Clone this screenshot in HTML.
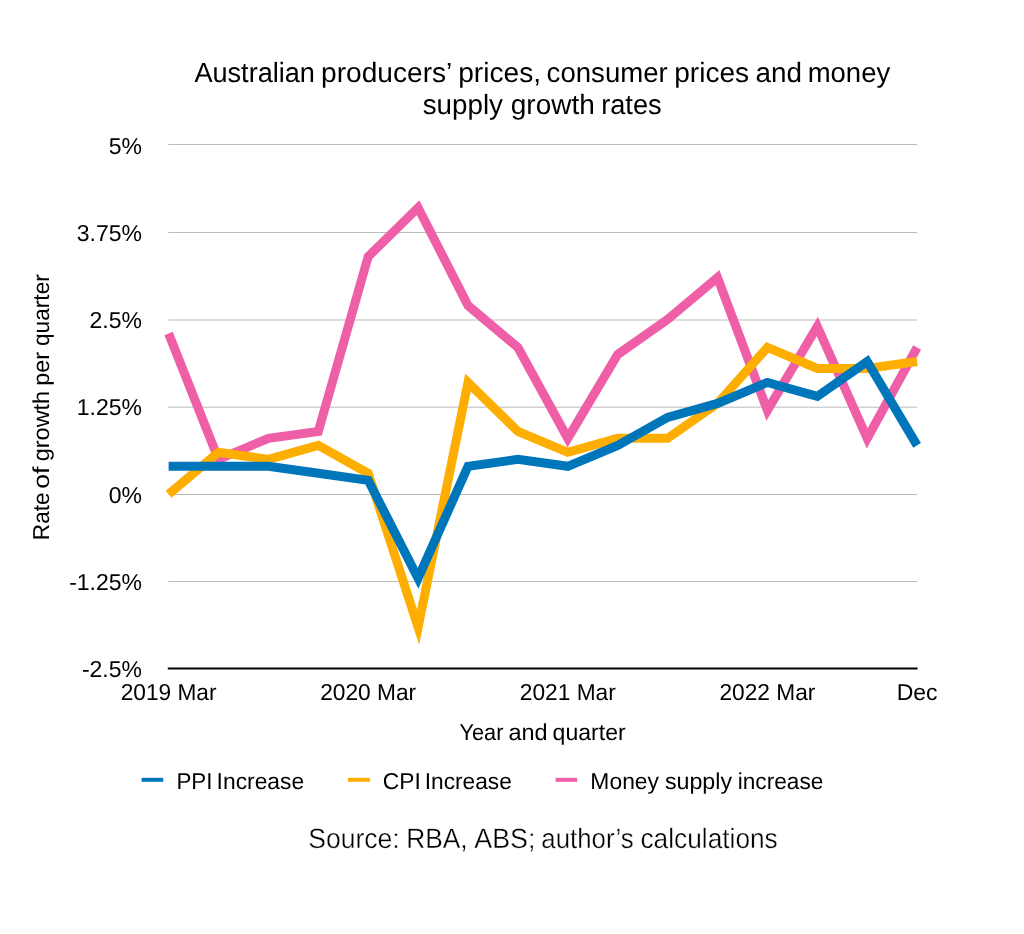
<!DOCTYPE html><html><head><meta charset="utf-8"><title>Australian producers’ prices, consumer prices and money supply growth rates</title><style>html,body{margin:0;padding:0;background:#fff;}svg{display:block;will-change:transform;}text{font-family:"Liberation Sans",sans-serif;text-rendering:geometricPrecision;}</style></head><body>
<svg width="1024" height="934" viewBox="0 0 1024 934">
<rect width="1024" height="934" fill="#fff"/>
<text x="194.41" y="81.90" font-size="27.8" textLength="120.54" lengthAdjust="spacingAndGlyphs" fill="#000">Australian</text>
<text x="321.12" y="81.90" font-size="27.8" textLength="131.20" lengthAdjust="spacingAndGlyphs" fill="#000">producers’</text>
<text x="458.22" y="81.90" font-size="27.8" textLength="82.83" lengthAdjust="spacingAndGlyphs" fill="#000">prices,</text>
<text x="546.61" y="81.90" font-size="27.8" textLength="121.13" lengthAdjust="spacingAndGlyphs" fill="#000">consumer</text>
<text x="674.22" y="81.90" font-size="27.8" textLength="74.88" lengthAdjust="spacingAndGlyphs" fill="#000">prices</text>
<text x="755.40" y="81.90" font-size="27.8" textLength="46.50" lengthAdjust="spacingAndGlyphs" fill="#000">and</text>
<text x="807.63" y="81.90" font-size="27.8" textLength="82.56" lengthAdjust="spacingAndGlyphs" fill="#000">money</text>
<text x="422.66" y="113.50" font-size="27.8" textLength="80.30" lengthAdjust="spacingAndGlyphs" fill="#000">supply</text>
<text x="510.74" y="113.50" font-size="27.8" textLength="84.12" lengthAdjust="spacingAndGlyphs" fill="#000">growth</text>
<text x="601.17" y="113.50" font-size="27.8" textLength="60.50" lengthAdjust="spacingAndGlyphs" fill="#000">rates</text>
<line x1="168.3" x2="917" y1="144.50" y2="144.50" stroke="#BBBBBB" stroke-width="1"/>
<line x1="168.3" x2="917" y1="232.50" y2="232.50" stroke="#BBBBBB" stroke-width="1"/>
<line x1="168.3" x2="917" y1="320.00" y2="320.00" stroke="#BBBBBB" stroke-width="1"/>
<line x1="168.3" x2="917" y1="407.20" y2="407.20" stroke="#BBBBBB" stroke-width="1"/>
<line x1="168.3" x2="917" y1="494.50" y2="494.50" stroke="#BBBBBB" stroke-width="1"/>
<line x1="168.3" x2="917" y1="581.50" y2="581.50" stroke="#BBBBBB" stroke-width="1"/>
<line x1="167.8" x2="917.6" y1="668.40" y2="668.40" stroke="#000" stroke-width="2"/>
<text x="142.00" y="153.90" font-size="23" text-anchor="end" fill="#000">5%</text>
<text x="142.00" y="241.20" font-size="23" text-anchor="end" fill="#000">3.75%</text>
<text x="142.00" y="328.10" font-size="23" text-anchor="end" fill="#000">2.5%</text>
<text x="142.00" y="415.30" font-size="23" text-anchor="end" fill="#000">1.25%</text>
<text x="142.00" y="502.70" font-size="23" text-anchor="end" fill="#000">0%</text>
<text x="142.00" y="589.80" font-size="23" text-anchor="end" fill="#000">-1.25%</text>
<text x="142.00" y="676.70" font-size="23" text-anchor="end" fill="#000">-2.5%</text>
<text x="168.60" y="699.80" font-size="23" text-anchor="middle" textLength="95.90" lengthAdjust="spacingAndGlyphs" fill="#000">2019 Mar</text>
<text x="368.20" y="699.80" font-size="23" text-anchor="middle" textLength="95.90" lengthAdjust="spacingAndGlyphs" fill="#000">2020 Mar</text>
<text x="567.80" y="699.80" font-size="23" text-anchor="middle" textLength="95.90" lengthAdjust="spacingAndGlyphs" fill="#000">2021 Mar</text>
<text x="767.40" y="699.80" font-size="23" text-anchor="middle" textLength="95.90" lengthAdjust="spacingAndGlyphs" fill="#000">2022 Mar</text>
<text x="917.10" y="699.80" font-size="23" text-anchor="middle" fill="#000">Dec</text>
<polyline points="168.60,333.48 218.50,459.34 268.40,438.36 318.30,431.37 368.20,256.57 418.10,207.63 468.00,305.52 517.90,347.47 567.80,438.36 617.70,354.46 667.60,319.50 717.50,277.55 767.40,410.40 817.30,326.49 867.20,438.36 917.10,347.47" fill="none" stroke="#EF5FA7" stroke-width="9" stroke-linejoin="miter" stroke-miterlimit="10" stroke-linecap="butt"/>
<polyline points="168.60,494.30 218.50,452.35 268.40,459.34 318.30,445.36 368.20,473.32 418.10,627.15 468.00,382.43 517.90,431.37 567.80,452.35 617.70,438.36 667.60,438.36 717.50,403.40 767.40,347.47 817.30,368.44 867.20,368.44 917.10,361.45" fill="none" stroke="#FEAE00" stroke-width="9" stroke-linejoin="miter" stroke-miterlimit="10" stroke-linecap="butt"/>
<polyline points="168.60,466.33 218.50,466.33 268.40,466.33 318.30,473.32 368.20,480.32 418.10,578.20 468.00,466.33 517.90,459.34 567.80,466.33 617.70,445.36 667.60,417.39 717.50,403.40 767.40,382.43 817.30,396.41 867.20,361.45 917.10,445.36" fill="none" stroke="#0076BA" stroke-width="9" stroke-linejoin="miter" stroke-miterlimit="10" stroke-linecap="butt"/>
<text x="459.51" y="740.00" font-size="23" textLength="43.89" lengthAdjust="spacingAndGlyphs" fill="#000">Year</text>
<text x="508.47" y="740.00" font-size="23" textLength="39.20" lengthAdjust="spacingAndGlyphs" fill="#000">and</text>
<text x="552.60" y="740.00" font-size="23" textLength="73.08" lengthAdjust="spacingAndGlyphs" fill="#000">quarter</text>
<g transform="translate(48.8,0) rotate(-90)">
<text x="-540.15" y="0.00" font-size="23" textLength="47.80" lengthAdjust="spacingAndGlyphs" fill="#000">Rate</text>
<text x="-488.82" y="0.00" font-size="23" textLength="22.12" lengthAdjust="spacingAndGlyphs" fill="#000">of</text>
<text x="-461.22" y="0.00" font-size="23" textLength="70.30" lengthAdjust="spacingAndGlyphs" fill="#000">growth</text>
<text x="-385.66" y="0.00" font-size="23" textLength="33.72" lengthAdjust="spacingAndGlyphs" fill="#000">per</text>
<text x="-345.97" y="0.00" font-size="23" textLength="71.74" lengthAdjust="spacingAndGlyphs" fill="#000">quarter</text>
</g>
<rect x="141.6" y="777.8" width="21.6" height="4" fill="#0076BA"/>
<rect x="348" y="777.8" width="21.9" height="4" fill="#FEAE00"/>
<rect x="555.6" y="777.8" width="21.5" height="4" fill="#EF5FA7"/>
<text x="176.42" y="788.70" font-size="23" textLength="36.09" lengthAdjust="spacingAndGlyphs" fill="#000">PPI</text>
<text x="216.62" y="788.70" font-size="23" textLength="87.51" lengthAdjust="spacingAndGlyphs" fill="#000">Increase</text>
<text x="382.76" y="788.70" font-size="23" textLength="38.05" lengthAdjust="spacingAndGlyphs" fill="#000">CPI</text>
<text x="424.78" y="788.70" font-size="23" textLength="87.04" lengthAdjust="spacingAndGlyphs" fill="#000">Increase</text>
<text x="590.37" y="788.70" font-size="23" textLength="68.67" lengthAdjust="spacingAndGlyphs" fill="#000">Money</text>
<text x="664.90" y="788.70" font-size="23" textLength="67.19" lengthAdjust="spacingAndGlyphs" fill="#000">supply</text>
<text x="737.74" y="788.70" font-size="23" textLength="85.57" lengthAdjust="spacingAndGlyphs" fill="#000">increase</text>
<text x="308.22" y="847.70" font-size="28" textLength="91.53" lengthAdjust="spacingAndGlyphs" fill="#000" stroke="#fff" stroke-width="0.35">Source:</text>
<text x="406.15" y="847.70" font-size="28" textLength="61.55" lengthAdjust="spacingAndGlyphs" fill="#000" stroke="#fff" stroke-width="0.35">RBA,</text>
<text x="474.27" y="847.70" font-size="28" textLength="61.15" lengthAdjust="spacingAndGlyphs" fill="#000" stroke="#fff" stroke-width="0.35">ABS;</text>
<text x="541.37" y="847.70" font-size="28" textLength="92.25" lengthAdjust="spacingAndGlyphs" fill="#000" stroke="#fff" stroke-width="0.35">author’s</text>
<text x="640.49" y="847.70" font-size="28" textLength="137.25" lengthAdjust="spacingAndGlyphs" fill="#000" stroke="#fff" stroke-width="0.35">calculations</text>
</svg></body></html>
